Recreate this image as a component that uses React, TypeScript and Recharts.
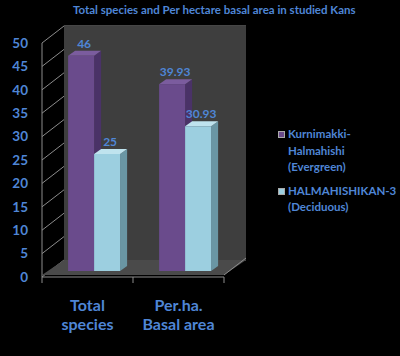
import React from 'react';
import {
  BarChart,
  Bar,
  XAxis,
  YAxis,
  CartesianGrid,
  LabelList,
  ReferenceArea,
} from 'recharts';

const categories = ['Total species', 'Per.ha. Basal area'];
const categoryLines = [['Total', 'species'], ['Per.ha.', 'Basal area']];
const evergreen = [46, 39.93];
const deciduous = [25, 30.93];
const seriesNames = ['Kurnimakki-Halmahishi (Evergreen)', 'HALMAHISHIKAN-3 (Deciduous)'];
const legendLines = [['Kurnimakki-', 'Halmahishi', '(Evergreen)'], ['HALMAHISHIKAN-3', '(Deciduous)']];
const yTicks = [0, 5, 10, 15, 20, 25, 30, 35, 40, 45, 50];

const data = categories.map((c, i) => ({ name: c, evergreen: evergreen[i], deciduous: deciduous[i] }));

const BLUE = '#4f86d6';
const FONT = 'Lato, "Open Sans", sans-serif';
// depth of the back wall and of the bars
const WALL_DX = 22;
const WALL_DY = 17;
const BAR_DX = 7;
const BAR_DY = 6;
const SIDE_DX = 7;
const SIDE_DY = 5;

const colors = {
  evergreen: { front: '#6a4b8c', side: '#4a3267', top: '#7b5c9e' },
  deciduous: { front: '#9ccfe0', side: '#6a96a4', top: '#bfe3ee' },
};

const makeBar = (c: { front: string; side: string; top: string }) => (p: any) => {
  const { x, y, width, height } = p;
  const fx = x + BAR_DX;
  const fy = y - BAR_DY;
  return (
    <g>
      <polygon
        points={`${fx + width},${fy} ${fx + width + SIDE_DX},${fy - SIDE_DY} ${fx + width + SIDE_DX},${fy + height - SIDE_DY} ${fx + width},${fy + height}`}
        fill={c.side}
      />
      <polygon
        points={`${fx},${fy} ${fx + SIDE_DX},${fy - SIDE_DY} ${fx + width + SIDE_DX},${fy - SIDE_DY} ${fx + width},${fy}`}
        fill={c.top}
      />
      <rect x={fx} y={fy} width={width} height={height} fill={c.front} />
    </g>
  );
};

const Wall = (p: any) => {
  const { x, y, width, height } = p;
  const bottom = y + height;
  return (
    <g>
      <rect x={x + WALL_DX} y={y - WALL_DY} width={width} height={height} fill="#3e3e3e" />
      <polygon
        points={`${x},${bottom - 2} ${x + WALL_DX},${bottom - WALL_DY} ${x + width + WALL_DX},${bottom - WALL_DY} ${x + width},${bottom - 2}`}
        fill="#4a4a4a"
      />
      <line x1={x + width} y1={bottom - 2} x2={x + width + WALL_DX} y2={bottom - WALL_DY - 2} stroke="#8c8c8c" />
      {[0, 0.5, 1].map((f) => (
        <line key={f} x1={x + width * f} y1={bottom} x2={x + width * f} y2={bottom + 6} stroke="#8c8c8c" />
      ))}
    </g>
  );
};

const gridLine = (p: any) => {
  const { x1, y1, x2, index } = p;
  return (
    <polyline
      key={`g${index}`}
      points={`${x1},${y1} ${x1 + WALL_DX},${y1 - WALL_DY} ${x2 + WALL_DX},${y1 - WALL_DY}`}
      fill="none"
      stroke="#8c8c8c"
      strokeWidth={1}
    />
  );
};

const CategoryTick = (p: any) => {
  const { x, y, index } = p;
  const lines = categoryLines[index] || [];
  return (
    <g>
      {lines.map((l, i) => (
        <text
          key={i}
          x={x}
          y={y + 26}
          dy={i * 19}
          textAnchor="middle"
          fill={BLUE}
          fontFamily={FONT}
          fontWeight={700}
          fontSize={16}
        >
          {l}
        </text>
      ))}
    </g>
  );
};

const valueLabel = (p: any) => {
  const { x, y, width, value } = p;
  return (
    <text
      x={x + BAR_DX + width / 2 + 3}
      y={y - BAR_DY - 8}
      textAnchor="middle"
      fill={BLUE}
      fontFamily={FONT}
      fontWeight={700}
      fontSize={12}
    >
      {value}
    </text>
  );
};

const LegendBox = () => (
  <div
    style={{
      position: 'absolute',
      left: 278,
      top: 126,
      fontFamily: FONT,
      fontWeight: 700,
      fontSize: 11.5,
      color: BLUE,
      lineHeight: '16.5px',
      whiteSpace: 'nowrap',
    }}
  >
    {legendLines.map((lines, i) => (
      <div key={seriesNames[i]} style={{ display: 'flex', marginBottom: 7 }}>
        <div
          style={{
            width: 5,
            height: 5,
            marginTop: 5,
            marginRight: 3,
            background: i === 0 ? colors.evergreen.front : colors.deciduous.front,
            border: '1px solid #aaa',
          }}
        />
        <div>
          {lines.map((l) => (
            <div key={l}>{l}</div>
          ))}
        </div>
      </div>
    ))}
  </div>
);

export default function App() {
  return (
    <div style={{ position: 'absolute', left: 0, top: 0, width: 400, height: 356, background: '#000' }}>
      <div
        style={{
          position: 'absolute',
          top: 3,
          left: 73,
          whiteSpace: 'nowrap',
          color: BLUE,
          fontFamily: FONT,
          fontWeight: 700,
          fontSize: 11.5,
        }}
      >
        Total species and Per hectare basal area in studied Kans
      </div>
      <BarChart
        width={400}
        height={356}
        data={data}
        margin={{ top: 43, right: 176, bottom: 0, left: 0 }}
        barCategoryGap="21%"
        barGap={0}
      >
        <ReferenceArea y1={0} y2={50} shape={Wall} ifOverflow="visible" />
        <CartesianGrid vertical={false} horizontal={gridLine} />
        <XAxis
          dataKey="name"
          height={79}
          stroke="#8c8c8c"
          tickLine={false}
          tick={<CategoryTick />}
          interval={0}
        />
        <YAxis
          width={42}
          domain={[0, 50]}
          ticks={yTicks}
          stroke="#8c8c8c"
          tickLine={false}
          tickMargin={8}
          tick={{ fill: BLUE, fontFamily: FONT, fontWeight: 700, fontSize: 13.5 }}
        />
        <Bar dataKey="evergreen" name={seriesNames[0]} shape={makeBar(colors.evergreen)} isAnimationActive={false}>
          <LabelList dataKey="evergreen" content={valueLabel} />
        </Bar>
        <Bar dataKey="deciduous" name={seriesNames[1]} shape={makeBar(colors.deciduous)} isAnimationActive={false}>
          <LabelList dataKey="deciduous" content={valueLabel} />
        </Bar>
      </BarChart>
      <LegendBox />
    </div>
  );
}
